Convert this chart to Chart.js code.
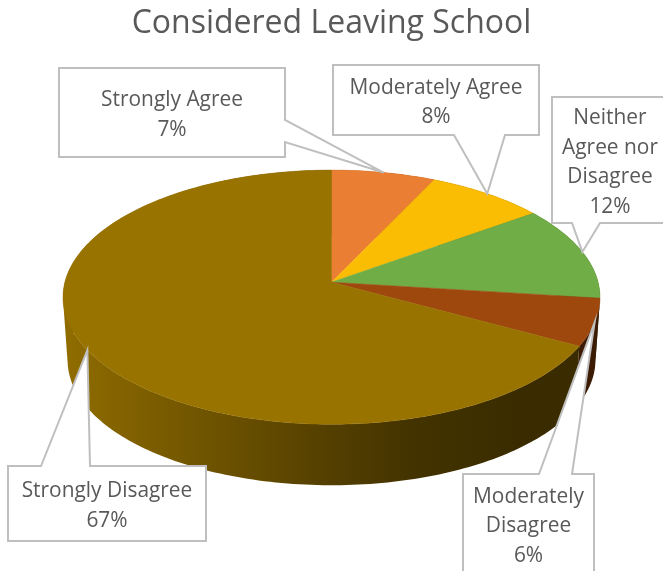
<!DOCTYPE html>
<html>
<head>
<meta charset="utf-8">
<title>Considered Leaving School</title>
<script src="https://cdn.jsdelivr.net/npm/chart.js@4"></script>
<style>
  body { margin: 0; background: #fff; }
  canvas { display: block; }
</style>
</head>
<body>
<canvas id="myChart" width="663" height="571"></canvas>
<script>
const categories = ['Strongly Agree', 'Moderately Agree', 'Neither Agree nor Disagree', 'Moderately Disagree', 'Strongly Disagree'];
const percents = [7, 8, 12, 6, 67];
const sliceColors = ['#EA7E33', '#FBBC04', '#70AD47', '#9E480E', '#997300'];

// how each label wraps inside its box
const labelLines = [
  ['Strongly Agree'],
  ['Moderately Agree'],
  ['Neither', 'Agree nor', 'Disagree'],
  ['Moderately', 'Disagree'],
  ['Strongly Disagree']
];

// callout boxes: side = edge the pointer leaves from, a/b = where it joins that edge
const callouts = [
  { x: 59, y: 68, w: 226, h: 89, side: 'right', a: 120, b: 142 },
  { x: 333, y: 65, w: 206, h: 70, side: 'bottom', a: 454, b: 505 },
  { x: 552, y: 97, w: 116, h: 126, side: 'bottom', a: 572, b: 600 },
  { x: 463, y: 474, w: 131, h: 100, side: 'top', a: 539, b: 572 },
  { x: 8, y: 466, w: 198, h: 75, side: 'top', a: 41, b: 90 }
];

// 3d look of the pie
const tilt = 0.47;
const perspective = 0.118;
const wallDrop = 63.4;
const wallShrink = 0.983;
const wallShade = [[0, 0.95], [0.2, 0.78], [0.45, 0.58], [0.65, 0.44], [0.85, 0.38], [1, 0.38]];

const FONT = '"Open Sans", "Noto Sans", sans-serif';
const LINE_COLOR = '#BFBFBF';
const TEXT_COLOR = '#595959';

// angle on the pie -> point on the top face (level 0) or the bottom rim (level 1)
function project(arc, angle, level) {
  const u = Math.cos(angle);
  const v = Math.sin(angle);
  const w = 1 - perspective * v;
  const s = level ? wallShrink : 1;
  return {
    x: arc.x + s * arc.outerRadius * u / w,
    y: arc.y + (level ? wallDrop : 0) + s * arc.outerRadius * tilt * v / w
  };
}

function rimAngles(arc) {
  const angles = [];
  const steps = Math.max(4, Math.ceil((arc.endAngle - arc.startAngle) / 0.02));
  for (let i = 0; i <= steps; i++) {
    angles.push(arc.startAngle + (arc.endAngle - arc.startAngle) * i / steps);
  }
  return angles;
}

function addPolygon(ctx, pts) {
  pts.forEach((p, i) => (i ? ctx.lineTo(p.x, p.y) : ctx.moveTo(p.x, p.y)));
  ctx.closePath();
}

function tracePath(ctx, pts) {
  ctx.beginPath();
  addPolygon(ctx, pts);
}

function signedArea(pts) {
  let sum = 0;
  pts.forEach((p, i) => {
    const q = pts[(i + 1) % pts.length];
    sum += p.x * q.y - q.x * p.y;
  });
  return sum;
}

function shadeColor(hex, k) {
  const n = parseInt(hex.slice(1), 16);
  const r = Math.round((n >> 16 & 255) * k);
  const g = Math.round((n >> 8 & 255) * k);
  const b = Math.round((n & 255) * k);
  return `rgb(${r},${g},${b})`;
}

// side wall: strips with one winding in a single path, so the fill has no seams
// and the silhouette stays straight where the two rims cross
function drawWall(ctx, arc, color) {
  const left = arc.x - arc.outerRadius * 1.01;
  const right = arc.x + arc.outerRadius * 1.01;
  const grad = ctx.createLinearGradient(left, 0, right, 0);
  wallShade.forEach(([stop, k]) => grad.addColorStop(stop, shadeColor(color, k)));
  const angles = rimAngles(arc);
  ctx.beginPath();
  for (let i = 1; i < angles.length; i++) {
    const quad = [
      project(arc, angles[i - 1], 0),
      project(arc, angles[i], 0),
      project(arc, angles[i], 1),
      project(arc, angles[i - 1], 1)
    ];
    addPolygon(ctx, signedArea(quad) < 0 ? quad.reverse() : quad);
  }
  ctx.fillStyle = grad;
  ctx.fill();
}

function drawFace(ctx, arc, color) {
  tracePath(ctx, [{ x: arc.x, y: arc.y }].concat(rimAngles(arc).map(a => project(arc, a, 0))));
  ctx.fillStyle = color;
  ctx.strokeStyle = color;
  ctx.lineWidth = 0.5;
  ctx.fill();
  ctx.stroke();
}

function calloutOutline(box, tip) {
  const r = box.x + box.w;
  const btm = box.y + box.h;
  const tl = { x: box.x, y: box.y };
  const tr = { x: r, y: box.y };
  const br = { x: r, y: btm };
  const bl = { x: box.x, y: btm };
  if (box.side === 'right') {
    return [tl, tr, { x: r, y: box.a }, tip, { x: r, y: box.b }, br, bl];
  }
  if (box.side === 'bottom') {
    return [tl, tr, br, { x: box.b, y: btm }, tip, { x: box.a, y: btm }, bl];
  }
  return [tl, { x: box.a, y: box.y }, tip, { x: box.b, y: box.y }, tr, br, bl];
}

const pie3d = {
  id: 'pie3d',
  // the arcs keep their angles from the controller, only the painting is tilted
  beforeDatasetDraw(chart) {
    const ctx = chart.ctx;
    const arcs = chart.getDatasetMeta(0).data;
    ctx.save();
    arcs.forEach((arc, i) => drawWall(ctx, arc, sliceColors[i]));
    arcs.forEach((arc, i) => drawFace(ctx, arc, sliceColors[i]));
    ctx.restore();
    return false;
  },
  afterDraw(chart) {
    const ctx = chart.ctx;
    const arcs = chart.getDatasetMeta(0).data;
    ctx.save();
    callouts.forEach((box, i) => {
      const arc = arcs[i];
      const tip = project(arc, (arc.startAngle + arc.endAngle) / 2, 0);
      tracePath(ctx, calloutOutline(box, tip));
      ctx.fillStyle = '#fff';
      ctx.strokeStyle = LINE_COLOR;
      ctx.lineWidth = 2;
      ctx.lineJoin = 'miter';
      ctx.fill();
      ctx.stroke();

      const lines = labelLines[i].concat(percents[i] + '%');
      const lineH = 29.5;
      const cy = box.y + box.h / 2 + 2.5;
      ctx.fillStyle = TEXT_COLOR;
      ctx.font = '20.9px ' + FONT;
      ctx.textAlign = 'center';
      ctx.textBaseline = 'middle';
      lines.forEach((t, j) => {
        ctx.fillText(t, box.x + box.w / 2, cy + (j - (lines.length - 1) / 2) * lineH);
      });
    });
    ctx.restore();
  }
};

const ctx = document.getElementById('myChart').getContext('2d');
const myChart = new Chart(ctx, {
  type: 'pie',
  data: {
    labels: categories,
    datasets: [{
      label: 'Considered Leaving School',
      data: percents,
      backgroundColor: sliceColors,
      borderWidth: 0
    }]
  },
  options: {
    responsive: false,
    animation: false,
    radius: 266.6,
    layout: { padding: { bottom: 50 } },
    plugins: {
      legend: { display: false },
      tooltip: { enabled: false },
      title: {
        display: true,
        text: 'Considered Leaving School',
        color: TEXT_COLOR,
        font: { family: FONT, size: 32, weight: 'normal', lineHeight: 1.2 },
        padding: { top: 5, bottom: 0 }
      }
    }
  },
  plugins: [pie3d]
});
</script>
</body>
</html>
